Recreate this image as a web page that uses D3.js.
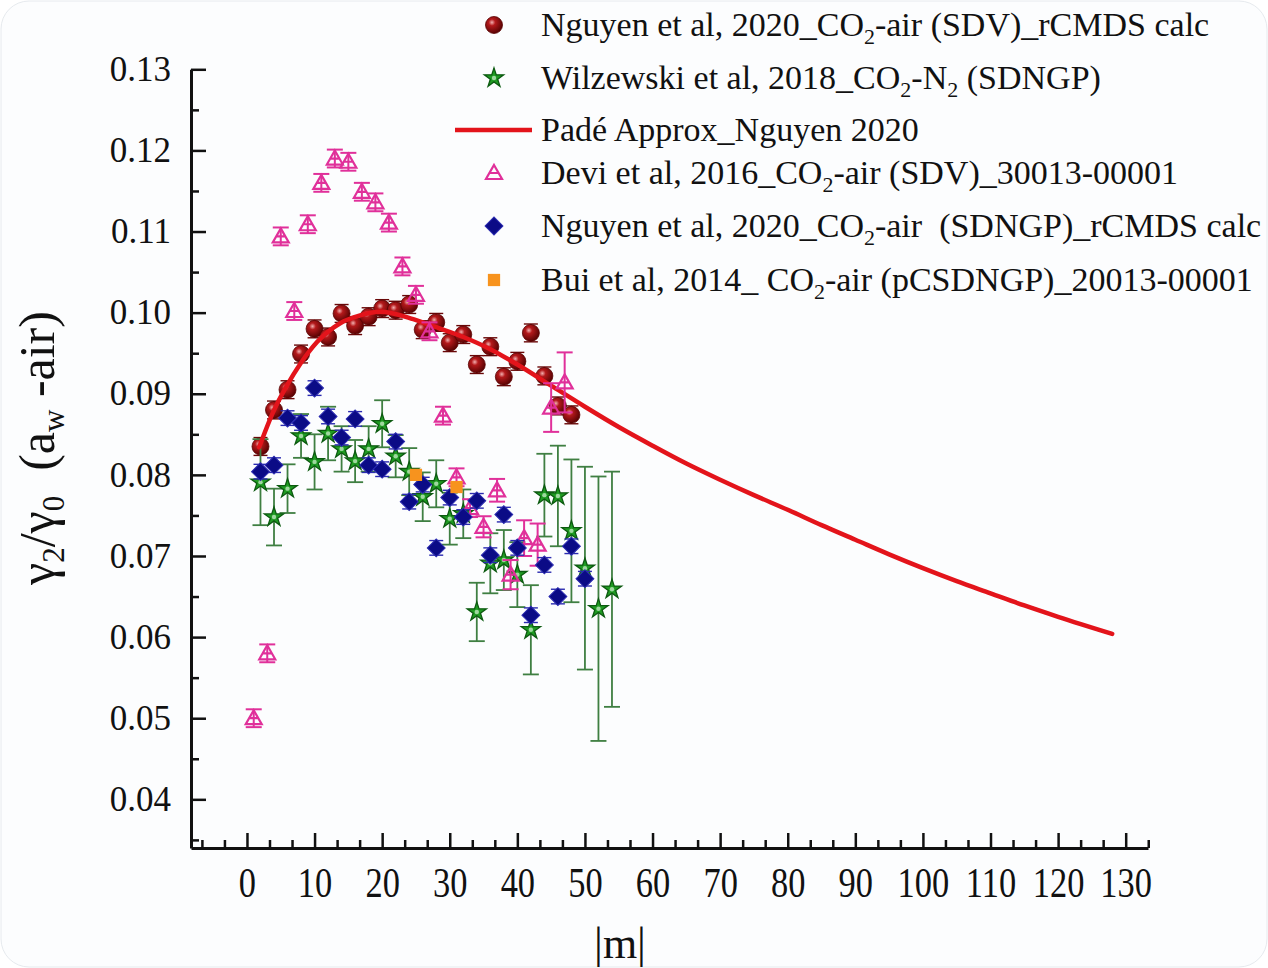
<!DOCTYPE html>
<html>
<head>
<meta charset="utf-8">
<script src="https://cdnjs.cloudflare.com/ajax/libs/d3/7.8.5/d3.min.js"></script>
<style>
    html, body { margin: 0; padding: 0; background: #ffffff; }
    svg { display: block; font-family: "Liberation Serif", "Times New Roman", serif; }
</style>
</head>
<body>
<div id="chart"></div>
<script type="text/javascript">

    // Nguyen et al 2020, SDV rCMDS calc
    const mSDV = [2, 4, 6, 8, 10, 12, 14, 16, 18, 20, 22, 24, 26, 28, 30, 32, 34, 36, 38, 40, 42, 44, 46, 48];
    const vSDV = [0.0835, 0.0880, 0.0905, 0.0949, 0.0980, 0.0970, 0.0999, 0.0984, 0.0995, 0.1005, 0.1003, 0.1010,
        0.0979, 0.0988, 0.0963, 0.0973, 0.0936, 0.0958, 0.0921, 0.0940, 0.0975, 0.0922, 0.0885, 0.0874];

    // Wilzewski et al 2018, CO2-N2 SDNGP (with uncertainties)
    const mWil = [2, 4, 6, 8, 10, 12, 14, 16, 18, 20, 22, 24, 26, 28, 30, 32, 34, 36, 38, 40, 42, 44, 46, 48, 50, 52, 54];
    const vWil = [0.0791, 0.0748, 0.0783, 0.0848, 0.0816, 0.0851, 0.0832, 0.0817, 0.0832, 0.0863, 0.0823, 0.0804,
        0.0773, 0.0789, 0.0746, 0.0752, 0.0631, 0.0691, 0.0695, 0.0677, 0.0609, 0.0775, 0.0774, 0.0731,
        0.0685, 0.0635, 0.0659];
    const eWil = [0.0053, 0.0035, 0.0030, 0.0027, 0.0034, 0.0033, 0.0028, 0.0026, 0.0028, 0.0029, 0.0026, 0.0029,
        0.0030, 0.0029, 0.0032, 0.0030, 0.0036, 0.0037, 0.0037, 0.0040, 0.0055, 0.0051, 0.0062, 0.0088,
        0.0125, 0.0163, 0.0145];

    // Pade approximation, Nguyen 2020
    const mPade = [1.8, 3.9, 5.9, 7.9, 10.4, 13.8, 16.5, 19.7, 24.6, 28, 32, 36, 40, 45, 50, 55, 60, 65, 70,
        75, 80, 85, 90, 95, 100, 105, 110, 115, 120, 128];
    const vPade = [0.0834, 0.0878, 0.0910, 0.0937, 0.0964, 0.0987, 0.0996, 0.1001, 0.0992, 0.0982, 0.0970, 0.0955,
        0.0936, 0.0910, 0.0884, 0.0859, 0.0836, 0.0814, 0.0794, 0.0775, 0.0757, 0.0738, 0.0720, 0.0702,
        0.0685, 0.0669, 0.0654, 0.0639, 0.0625, 0.0604];

    // Devi et al 2016, SDV 30013-00001
    const mDevi = [1, 3, 5, 7, 9, 11, 13, 15, 17, 19, 21, 23, 25, 27, 29, 31, 33, 35, 37, 39, 41, 43, 45, 47];
    const vDevi = [0.0500, 0.0580, 0.1094, 0.1002, 0.1109, 0.1160, 0.1190, 0.1186, 0.1149, 0.1136, 0.1111, 0.1057,
        0.1022, 0.0977, 0.0873, 0.0797, 0.0759, 0.0736, 0.0781, 0.0677, 0.0722, 0.0714, 0.0883, 0.0914];
    const eDevi = [0.0011, 0.0011, 0.0011, 0.0011, 0.0011, 0.0011, 0.0011, 0.0011, 0.0011, 0.0011, 0.0011, 0.0011,
        0.0011, 0.0011, 0.0011, 0.0011, 0.0011, 0.0013, 0.0014, 0.0018, 0.0022, 0.0026, 0.0030, 0.0037];

    // Nguyen et al 2020, SDNGP rCMDS calc
    const mNgp = [2, 4, 6, 8, 10, 12, 14, 16, 18, 20, 22, 24, 26, 28, 30, 32, 34, 36, 38, 40, 42, 44, 46, 48, 50];
    const vNgp = [0.0804, 0.0812, 0.0870, 0.0864, 0.0907, 0.0872, 0.0846, 0.0869, 0.0812, 0.0807, 0.0841, 0.0767,
        0.0788, 0.0710, 0.0772, 0.0748, 0.0768, 0.0701, 0.0751, 0.0710, 0.0627, 0.0689, 0.0650, 0.0712, 0.0672];

    // Bui et al 2014, pCSDNGP 20013-00001
    const mBui = [25, 31];
    const vBui = [0.0800, 0.0785];

    const xMajor = [0, 10, 20, 30, 40, 50, 60, 70, 80, 90, 100, 110, 120, 130];
    const yMajor = [0.04, 0.05, 0.06, 0.07, 0.08, 0.09, 0.10, 0.11, 0.12, 0.13];

    // legend text pieces: [text, isSubscript]
    const legendLabels = [
        [["Nguyen et al, 2020_CO", 0], ["2", 1], ["-air (SDV)_rCMDS calc", 0]],
        [["Wilzewski et al, 2018_CO", 0], ["2", 1], ["-N", 0], ["2", 1], [" (SDNGP)", 0]],
        [["Padé Approx_Nguyen 2020", 0]],
        [["Devi et al, 2016_CO", 0], ["2", 1], ["-air (SDV)_30013-00001", 0]],
        [["Nguyen et al, 2020_CO", 0], ["2", 1], ["-air  (SDNGP)_rCMDS calc", 0]],
        [["Bui et al, 2014_ CO", 0], ["2", 1], ["-air (pCSDNGP)_20013-00001", 0]]
    ];

    const width = 1268, height = 968;
    const svg = d3.select("#chart").append("svg")
        .attr("width", width)
        .attr("height", height);

    svg.append("rect")
        .attr("x", 1).attr("y", 1).attr("width", width - 2).attr("height", height - 2)
        .attr("rx", 28)
        .attr("fill", "#fcfdfe")
        .attr("stroke", "#e6eaee");

    const defs = svg.append("defs");
    const ball = defs.append("radialGradient").attr("id", "ball")
        .attr("cx", "38%").attr("cy", "35%").attr("r", "65%");
    ball.append("stop").attr("offset", "0%").attr("stop-color", "#f2b0b0");
    ball.append("stop").attr("offset", "30%").attr("stop-color", "#b3191b");
    ball.append("stop").attr("offset", "100%").attr("stop-color", "#5a0303");

    const x = d3.scaleLinear().domain([-8.28, 133.3]).range([191, 1148]);
    const y = d3.scaleLinear().domain([0.034, 0.13]).range([848, 69.3]);

    // axes
    const xMinor = d3.range(-20, 401, 10).map(d => d / 3).filter(d => d > -8 && xMajor.indexOf(d) < 0);
    const yMinor = d3.range(35, 130, 10).map(d => d / 1000);

    const axisG = svg.append("g").attr("class", "axes");

    const gx = axisG.append("g").attr("transform", `translate(0,${y.range()[0]})`);
    gx.call(d3.axisBottom(x).tickValues(xMajor).tickSize(-15).tickPadding(19).tickSizeOuter(0));
    gx.append("g").call(d3.axisBottom(x).tickValues(xMinor).tickSize(-8).tickFormat("").tickSizeOuter(0))
        .select(".domain").remove();

    const gy = axisG.append("g").attr("transform", `translate(${x.range()[0]},0)`);
    gy.call(d3.axisLeft(y).tickValues(yMajor).tickSize(-15).tickPadding(20).tickSizeOuter(0)
        .tickFormat(d3.format(".2f")));
    gy.append("g").call(d3.axisLeft(y).tickValues(yMinor).tickSize(-8).tickFormat("").tickSizeOuter(0))
        .select(".domain").remove();

    axisG.selectAll(".domain").attr("stroke", "#111").attr("stroke-width", 3);
    axisG.selectAll(".tick line").attr("stroke", "#111").attr("stroke-width", 2.5);
    gx.selectAll(".tick text")
        .attr("font-family", "Liberation Serif")
        .attr("font-size", 42)
        .attr("fill", "#111")
        .attr("transform", "scale(0.82,1)");
    gy.selectAll(".tick text")
        .attr("font-family", "Liberation Serif")
        .attr("font-size", 35)
        .attr("fill", "#111");

    // axis titles
    const yTitle = svg.append("text")
        .attr("transform", "translate(54,448) rotate(-90)")
        .attr("text-anchor", "middle")
        .attr("font-size", 50)
        .attr("fill", "#111")
        .style("white-space", "pre");
    [["γ", 0], ["2", 1], ["/γ", 0], ["0", 1], ["  (a", 0], ["w", 1], [" -air)", 0]].forEach(([t, s], i, arr) => {
        const prevSub = i > 0 && arr[i - 1][1];
        yTitle.append("tspan")
            .attr("dy", s ? 10 : (prevSub ? -10 : 0))
            .attr("font-size", s ? 31 : 50)
            .text(t);
    });

    svg.append("text")
        .attr("x", 620).attr("y", 958)
        .attr("text-anchor", "middle")
        .attr("font-size", 44)
        .attr("fill", "#111")
        .text("|m|");

    // marker helpers
    const starPath = d3.symbol(d3.symbolStar, 115)();
    const diamondPath = d3.symbol(d3.symbolSquare, 160)();
    const squarePath = d3.symbol(d3.symbolSquare, 150)();
    const triPath = "M0,-8L8,6L-8,6Z M-4.6,0H4.6";

    function errorBars(g, ms, vs, es, color, cap, widthPx) {
        const bars = g.selectAll("g").data(ms.map((m, i) => [m, vs[i], es[i]])).join("g")
            .attr("stroke", color).attr("stroke-width", widthPx).attr("fill", "none");
        bars.append("line")
            .attr("x1", d => x(d[0])).attr("x2", d => x(d[0]))
            .attr("y1", d => y(d[1] - d[2])).attr("y2", d => y(d[1] + d[2]));
        bars.append("line")
            .attr("x1", d => x(d[0]) - cap).attr("x2", d => x(d[0]) + cap)
            .attr("y1", d => y(d[1] - d[2])).attr("y2", d => y(d[1] - d[2]));
        bars.append("line")
            .attr("x1", d => x(d[0]) - cap).attr("x2", d => x(d[0]) + cap)
            .attr("y1", d => y(d[1] + d[2])).attr("y2", d => y(d[1] + d[2]));
    }

    const markers = {
        sdv: g => g.append("circle").attr("r", 8.5).attr("fill", "url(#ball)")
            .attr("stroke", "#5a0303").attr("stroke-width", 0.8),
        wil: g => {
            g.append("path").attr("d", starPath).attr("fill", "#1f9b22")
                .attr("stroke", "#0c5a10").attr("stroke-width", 1.3);
            g.append("circle").attr("r", 2.2).attr("fill", "#9fd89f");
        },
        devi: g => g.append("path").attr("d", triPath).attr("fill", "none")
            .attr("stroke", "#e0309a").attr("stroke-width", 2.2),
        ngp: g => g.append("path").attr("d", diamondPath).attr("transform", "rotate(45)")
            .attr("fill", "#0b0b86").attr("stroke", "#2b2bb0").attr("stroke-width", 1),
        bui: g => g.append("path").attr("d", squarePath).attr("fill", "#f7931e")
    };

    function scatter(ms, vs, kind) {
        const g = svg.append("g");
        g.selectAll("g").data(ms.map((m, i) => [m, vs[i]])).join("g")
            .attr("transform", d => `translate(${x(d[0])},${y(d[1])})`)
            .each(function () { markers[kind](d3.select(this)); });
        return g;
    }

    const smallErr = mSDV.map(() => 0.0011);

    // Nguyen SDV
    errorBars(svg.append("g"), mSDV, vSDV, smallErr, "#6a0808", 7, 1.4);
    scatter(mSDV, vSDV, "sdv");

    // Wilzewski
    errorBars(svg.append("g"), mWil, vWil, eWil, "#3f7f42", 8, 1.8);
    scatter(mWil, vWil, "wil");

    // Pade curve
    const line = d3.line().x(d => x(d[0])).y(d => y(d[1])).curve(d3.curveMonotoneX);
    svg.append("path")
        .datum(mPade.map((m, i) => [m, vPade[i]]))
        .attr("d", line)
        .attr("fill", "none")
        .attr("stroke", "#e3141b")
        .attr("stroke-width", 4.5)
        .attr("stroke-linecap", "round");

    // Devi
    errorBars(svg.append("g"), mDevi, vDevi, eDevi, "#e0309a", 8, 2);
    scatter(mDevi, vDevi, "devi");

    // Nguyen SDNGP
    errorBars(svg.append("g"), mNgp, vNgp, mNgp.map(() => 0.0009), "#2b2bb0", 7, 1.4);
    scatter(mNgp, vNgp, "ngp");

    // Bui
    scatter(mBui, vBui, "bui");

    // legend
    const legendKinds = ["sdv", "wil", "pade", "devi", "ngp", "bui"];
    const legendY = [25, 78, 130, 173, 226, 280];
    const legend = svg.append("g").attr("class", "legend");
    legendKinds.forEach((k, i) => {
        const row = legend.append("g").attr("transform", `translate(0,${legendY[i]})`);
        if (k === "pade") {
            row.append("line").attr("x1", 455).attr("x2", 532).attr("y1", 0).attr("y2", 0)
                .attr("stroke", "#e3141b").attr("stroke-width", 4.5);
        } else {
            markers[k](row.append("g").attr("transform", "translate(494,0)"));
        }
        const t = row.append("text")
            .attr("x", 541).attr("y", 11)
            .attr("font-size", 34)
            .attr("fill", "#111")
            .style("white-space", "pre");
        legendLabels[i].forEach(([s, sub], j, arr) => {
            const prevSub = j > 0 && arr[j - 1][1];
            t.append("tspan")
                .attr("dy", sub ? 8 : (prevSub ? -8 : 0))
                .attr("font-size", sub ? 22 : 34)
                .text(s);
        });
    });
</script>
</body>
</html>
